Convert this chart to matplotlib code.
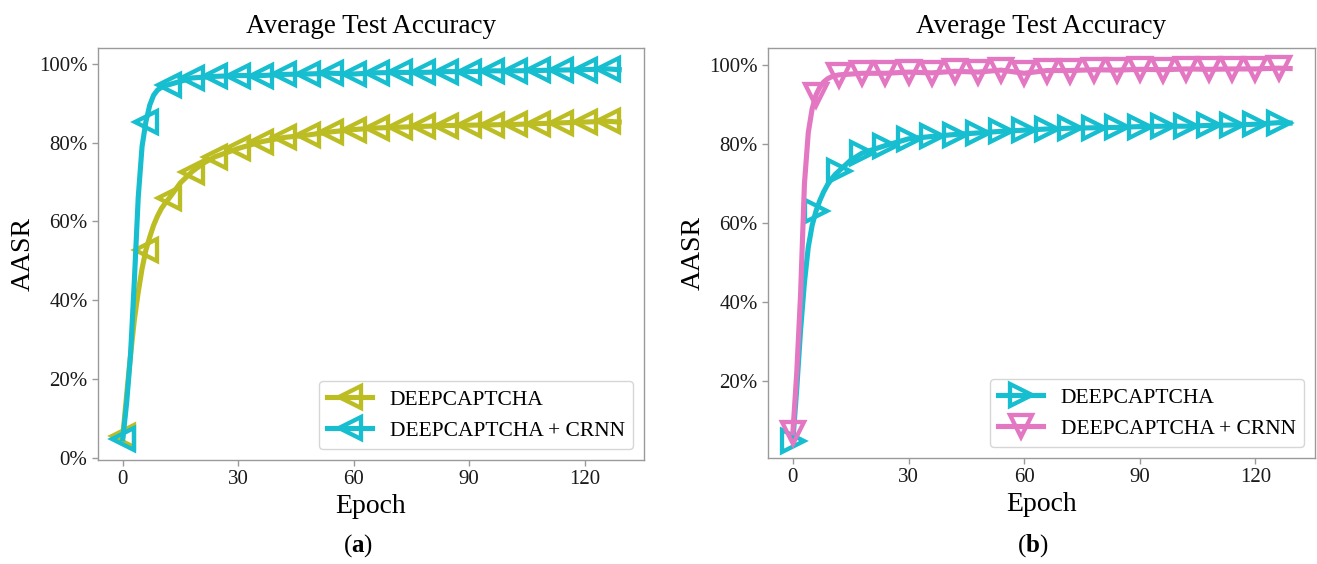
import matplotlib as mpl
import matplotlib.pyplot as plt
from matplotlib.ticker import PercentFormatter

# ---- data (AASR in %) ----
# panel (a)
a_base_epochs = [0, 1, 2, 3, 4, 5, 6, 7, 8, 9, 10, 11, 12, 15, 18, 21, 24, 30, 36, 42, 48, 54,
                 60, 66, 72, 78, 84, 90, 96, 102, 108, 114, 120, 126, 129]
a_base_acc = [5.5, 16, 26, 35, 42, 48, 52.7, 56, 59, 61.3, 63.2, 64.6, 65.8, 69.8, 72.6, 74.8,
              76.4, 78.5, 80.2, 81.3, 81.9, 82.7, 83.3, 83.7, 83.9, 84.1, 84.3, 84.4, 84.5,
              84.6, 84.8, 85.0, 85.2, 85.4, 85.2]
a_crnn_epochs = [0, 1, 2, 3, 4, 5, 6, 7, 8, 9, 10, 11, 12, 18, 24, 30, 36, 42, 48, 54, 60, 66,
                 72, 78, 84, 90, 96, 102, 108, 114, 120, 126, 129]
a_crnn_acc = [4.8, 14, 26, 45, 66, 79, 85.3, 89.5, 92, 93.3, 94, 94.4, 94.7, 96.4, 96.8, 97.0,
              97.0, 97.3, 97.4, 97.6, 97.4, 97.7, 97.8, 97.8, 98.0, 98.0, 98.2, 98.2, 98.3,
              98.4, 98.5, 98.7, 98.5]

# panel (b)
b_base_epochs = [0, 1, 2, 3, 4, 5, 6, 7, 8, 9, 10, 11, 12, 15, 18, 24, 30, 36, 42, 48, 54, 60,
                 66, 72, 78, 84, 90, 96, 102, 108, 114, 120, 126, 129]
b_base_acc = [5, 18, 33, 45, 54, 59.5, 63.1, 65.8, 68, 69.8, 71.2, 72.4, 73.3, 76, 77.8, 79.7,
              81.4, 82.0, 82.5, 82.9, 83.3, 83.6, 83.9, 84.1, 84.2, 84.3, 84.5, 84.6, 84.6,
              84.8, 84.9, 85.1, 85.5, 85.4]
b_crnn_epochs = [0, 1, 2, 3, 4, 5, 6, 7, 8, 9, 10, 11, 12, 18, 24, 30, 36, 42, 48, 54, 60, 66,
                 72, 78, 84, 90, 96, 102, 108, 114, 120, 126, 129]
b_crnn_acc = [7, 22, 42, 70, 83, 89, 92.5, 94.5, 95.8, 96.6, 97.1, 97.4, 97.6, 98.0, 98.0,
              98.3, 98.1, 98.5, 98.3, 98.8, 98.0, 98.7, 98.7, 98.9, 98.8, 99.0, 98.9, 99.1,
              99.0, 99.1, 99.1, 99.3, 99.2]

x_ticks = [0, 30, 60, 90, 120]
y_ticks = [0, 20, 40, 60, 80, 100]
labels = ["DEEPCAPTCHA", "DEEPCAPTCHA + CRNN"]

olive = "#bcbd22"
cyan = "#17becf"
pink = "#e377c2"

mpl.rcParams.update(
    {
        "font.family": "serif",
        "font.serif": ["Liberation Serif", "DejaVu Serif"],
        "mathtext.fontset": "custom",
        "mathtext.rm": "Liberation Serif",
        "mathtext.bf": "Liberation Serif:bold",
        "axes.edgecolor": "#9a9a9a",
        "axes.linewidth": 1.0,
        "xtick.color": "#9a9a9a",
        "ytick.color": "#9a9a9a",
        "xtick.labelcolor": "#1a1a1a",
        "ytick.labelcolor": "#1a1a1a",
    }
)


def marks(epochs):
    return [i for i, e in enumerate(epochs) if e % 6 == 0 and e <= 126]


def draw(ax, series, ylim):
    for epochs, acc, color, marker, label in series:
        ax.plot(epochs, acc, color=color, linewidth=3.7, marker=marker, markersize=16,
                markerfacecolor="none", markeredgewidth=3.1, markevery=marks(epochs),
                label=label)
    ax.set_xlim(-6.45, 135.45)
    ax.set_ylim(*ylim)
    ax.set_xticks(x_ticks)
    ax.set_yticks([t for t in y_ticks if ylim[0] <= t <= ylim[1]])
    ax.yaxis.set_major_formatter(PercentFormatter(decimals=0))
    ax.tick_params(labelsize=15, length=4, width=1.0)
    ax.set_title("Average Test Accuracy", fontsize=19.5, pad=11)
    ax.set_xlabel("Epoch", fontsize=20, labelpad=3)
    ax.set_ylabel("AASR", fontsize=20, labelpad=2)
    ax.legend(loc="lower right", fontsize=15.5, handlelength=2.1, borderaxespad=0.5)


fig = plt.figure(figsize=(13.17, 5.64), dpi=100)
ax_a = fig.add_axes([98 / 1317, 1 - 460 / 564, 546 / 1317, 412 / 564])
ax_b = fig.add_axes([768 / 1317, 1 - 458 / 564, 547 / 1317, 410 / 564])

draw(ax_a, [(a_base_epochs, a_base_acc, olive, "<", labels[0]),
            (a_crnn_epochs, a_crnn_acc, cyan, "<", labels[1])], (-0.6, 104.0))
draw(ax_b, [(b_base_epochs, b_base_acc, cyan, ">", labels[0]),
            (b_crnn_epochs, b_crnn_acc, pink, "v", labels[1])], (0.6, 104.4))

fig.text(358 / 1317, 1 - 546 / 564, r"($\mathbf{a}$)", ha="center", va="center", fontsize=18)
fig.text(1033 / 1317, 1 - 546 / 564, r"($\mathbf{b}$)", ha="center", va="center", fontsize=18)

fig.savefig("out.png", dpi=100)
